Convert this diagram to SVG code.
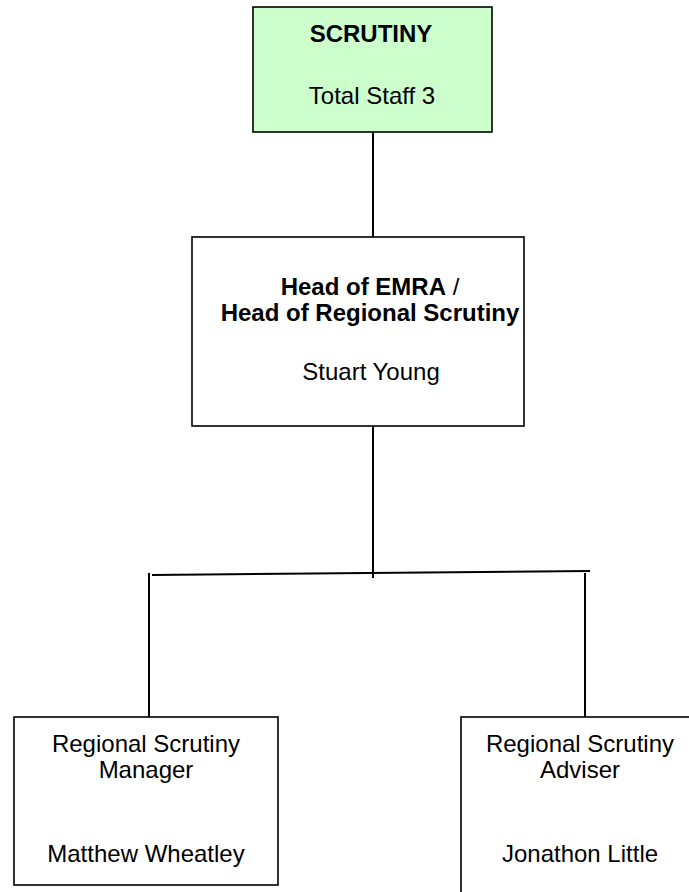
<svg xmlns="http://www.w3.org/2000/svg" width="689" height="892" viewBox="0 0 689 892">
<style>
  .box { fill: #ffffff; stroke: #000000; stroke-width: 1.6; }
  .green { fill: #ccffcc; }
  .conn { stroke: #000000; stroke-width: 2; fill: none; }
  text { font-family: "Liberation Sans", Arial, sans-serif; font-size: 24px; fill: #000000; text-anchor: middle; }
  .b { font-weight: bold; }
</style>
<rect width="689" height="892" fill="#ffffff"/>
<g id="connectors">
  <line class="conn" x1="373" y1="132" x2="373" y2="237"/>
  <line class="conn" x1="373" y1="426" x2="373" y2="578"/>
  <line class="conn" x1="152" y1="575" x2="590" y2="571"/>
  <line class="conn" x1="149" y1="573" x2="149" y2="717"/>
  <line class="conn" x1="585" y1="573" x2="585" y2="717"/>
</g>
<g id="scrutiny">
  <rect class="box green" x="253" y="7" width="239" height="125"/>
  <text x="371" y="42" class="b">SCRUTINY</text>
  <text x="372" y="104">Total Staff 3</text>
</g>
<g id="head">
  <rect class="box" x="192" y="237" width="332" height="189"/>
  <text x="370" y="295"><tspan class="b">Head of EMRA</tspan> /</text>
  <text x="370" y="321" class="b">Head of Regional Scrutiny</text>
  <text x="371" y="380">Stuart Young</text>
</g>
<g id="manager">
  <rect class="box" x="14" y="717" width="264" height="168"/>
  <text x="146" y="752">Regional Scrutiny</text>
  <text x="146" y="778">Manager</text>
  <text x="146" y="862">Matthew Wheatley</text>
</g>
<g id="adviser">
  <rect class="box" x="461" y="717" width="240" height="190"/>
  <text x="580" y="752">Regional Scrutiny</text>
  <text x="580" y="778">Adviser</text>
  <text x="580" y="862">Jonathon Little</text>
</g>
</svg>
